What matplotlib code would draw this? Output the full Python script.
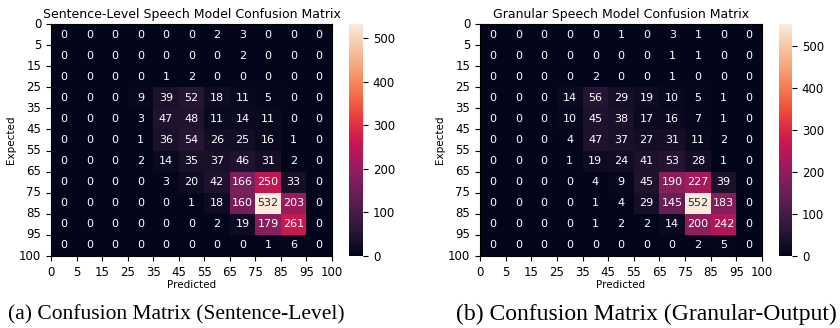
import numpy as np
import matplotlib
matplotlib.use("Agg")
import matplotlib.pyplot as plt
import seaborn as sns

edges = ["0", "5", "15", "25", "35", "45", "55", "65", "75", "85", "95", "100"]

sentence_cm = [
    [0, 0, 0, 0, 0, 0, 2, 3, 0, 0, 0],
    [0, 0, 0, 0, 0, 0, 0, 2, 0, 0, 0],
    [0, 0, 0, 0, 1, 2, 0, 0, 0, 0, 0],
    [0, 0, 0, 9, 39, 52, 18, 11, 5, 0, 0],
    [0, 0, 0, 3, 47, 48, 11, 14, 11, 0, 0],
    [0, 0, 0, 1, 36, 54, 26, 25, 16, 1, 0],
    [0, 0, 0, 2, 14, 35, 37, 46, 31, 2, 0],
    [0, 0, 0, 0, 3, 20, 42, 166, 250, 33, 0],
    [0, 0, 0, 0, 0, 1, 18, 160, 532, 203, 0],
    [0, 0, 0, 0, 0, 0, 2, 19, 179, 261, 0],
    [0, 0, 0, 0, 0, 0, 0, 0, 1, 6, 0],
]

granular_cm = [
    [0, 0, 0, 0, 0, 1, 0, 3, 1, 0, 0],
    [0, 0, 0, 0, 0, 0, 0, 1, 1, 0, 0],
    [0, 0, 0, 0, 2, 0, 0, 1, 0, 0, 0],
    [0, 0, 0, 14, 56, 29, 19, 10, 5, 1, 0],
    [0, 0, 0, 10, 45, 38, 17, 16, 7, 1, 0],
    [0, 0, 0, 4, 47, 37, 27, 31, 11, 2, 0],
    [0, 0, 0, 1, 19, 24, 41, 53, 28, 1, 0],
    [0, 0, 0, 0, 4, 9, 45, 190, 227, 39, 0],
    [0, 0, 0, 0, 1, 4, 29, 145, 552, 183, 0],
    [0, 0, 0, 0, 1, 2, 2, 14, 200, 242, 0],
    [0, 0, 0, 0, 0, 0, 0, 0, 2, 5, 0],
]

titles = ["Sentence-Level Speech Model Confusion Matrix",
          "Granular Speech Model Confusion Matrix"]
captions = ["(a) Confusion Matrix (Sentence-Level)",
            "(b) Confusion Matrix (Granular-Output)"]

fig = plt.figure(figsize=(8.4, 3.28), dpi=100)

# heatmap box, colorbar box, caption x, caption size
panels = [
    (sentence_cm, [0.0607, 0.2195, 0.3345, 0.7073], [0.4155, 0.2195, 0.0167, 0.7073], 0.210, 15.5),
    (granular_cm, [0.5714, 0.2195, 0.3357, 0.7073], [0.9274, 0.2195, 0.0155, 0.7073], 0.770, 17),
]

for i, (cm, hpos, cpos, capx, capsize) in enumerate(panels):
    ax = fig.add_axes(hpos)
    cax = fig.add_axes(cpos)
    sns.heatmap(np.array(cm), annot=True, fmt="d", ax=ax, cbar_ax=cax,
                annot_kws={"size": 8})
    ax.set_xticks(np.arange(len(edges)))
    ax.set_yticks(np.arange(len(edges)))
    ax.set_xticklabels(edges, fontsize=8.5, rotation=0)
    ax.set_yticklabels(edges, fontsize=8.5, rotation=0)
    ax.tick_params(length=3.5, width=0.8)
    for s in ax.spines.values():
        s.set_visible(True)
        s.set_linewidth(0.8)
    ax.set_title(titles[i], fontsize=9, pad=4)
    ax.set_xlabel("Predicted", fontsize=7.5, labelpad=1)
    ax.set_ylabel("Expected", fontsize=7.5, labelpad=2)
    cax.tick_params(labelsize=8.5, length=3.5)
    fig.text(capx, 0.04, captions[i], ha="center", va="center",
             family="Liberation Serif", fontsize=capsize)

fig.savefig("out.png", dpi=100)
